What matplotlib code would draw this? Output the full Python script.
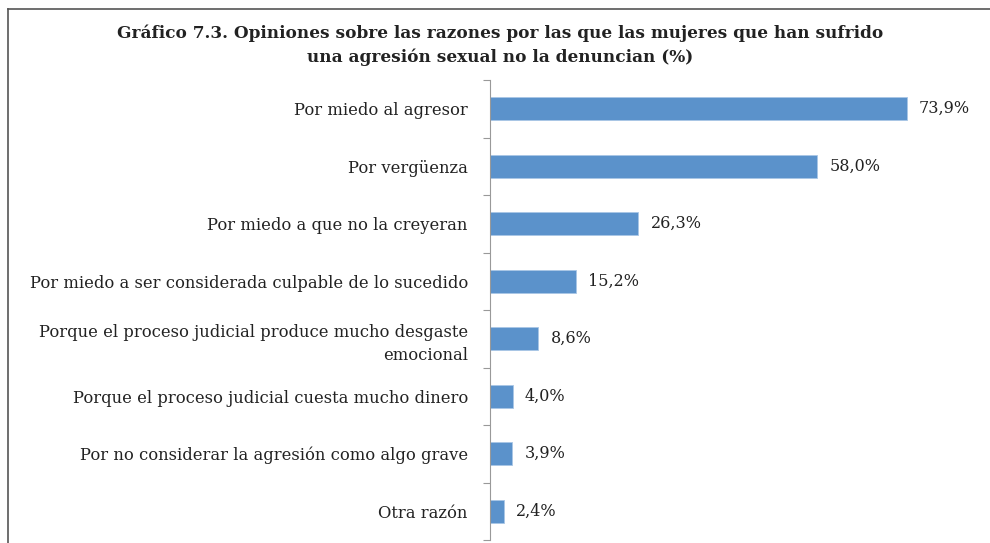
import matplotlib.pyplot as plt
from matplotlib.lines import Line2D

# reasons and percentages (top to bottom)
razones = [
    "Por miedo al agresor",
    "Por vergüenza",
    "Por miedo a que no la creyeran",
    "Por miedo a ser considerada culpable de lo sucedido",
    "Porque el proceso judicial produce mucho desgaste\nemocional",
    "Porque el proceso judicial cuesta mucho dinero",
    "Por no considerar la agresión como algo grave",
    "Otra razón",
]
porcentajes = [73.9, 58.0, 26.3, 15.2, 8.6, 4.0, 3.9, 2.4]

plt.rcParams['font.family'] = ['DejaVu Serif']

fig = plt.figure(figsize=(9.9, 5.43), dpi=100)
W, H = 990, 543

# plot area in pixels: x from 490 to 941, y from 80 to 540 (top-down)
ax = fig.add_axes([490 / W, (H - 540) / H, 451 / W, 460 / H])

pos = list(range(len(razones)))
ax.barh(pos, porcentajes, height=0.4, color="#5b92cb", edgecolor="#a9c6e6", linewidth=0.6)
ax.set_xlim(0, 80)
ax.set_ylim(len(razones) - 0.5, -0.5)

for p, v in zip(pos, porcentajes):
    ax.text(v + 2.2, p, f"{v:.1f}%".replace(".", ","), va="center", ha="left",
            fontsize=11.5, color="#222222")

# category labels
ax.set_yticks(pos)
ax.set_yticklabels(razones, fontsize=11.8, color="#222222", ha="right",
                   multialignment="right", linespacing=1.45)
ax.tick_params(axis="y", which="major", length=0, pad=16)
ax.set_yticks([p + 0.5 for p in [-1] + pos], minor=True)
ax.tick_params(axis="y", which="minor", length=5, color="#999999", width=0.8)
ax.set_xticks([])

for s in ["top", "right", "bottom"]:
    ax.spines[s].set_visible(False)
ax.spines["left"].set_color("#999999")
ax.spines["left"].set_linewidth(0.8)

fig.text(500 / W, 1 - 33 / H,
         "Gráfico 7.3. Opiniones sobre las razones por las que las mujeres que han sufrido",
         ha="center", va="center", fontsize=12.2, fontweight="bold", color="#222222")
fig.text(500 / W, 1 - 57 / H, "una agresión sexual no la denuncian (%)",
         ha="center", va="center", fontsize=12.2, fontweight="bold", color="#222222")

# box lines along the top and left edges
fig.add_artist(Line2D([8 / W, 1], [1 - 9 / H, 1 - 9 / H], color="#555555", linewidth=1.2))
fig.add_artist(Line2D([8 / W, 8 / W], [0, 1 - 9 / H], color="#555555", linewidth=1.2))

fig.savefig("out.png", dpi=100)
